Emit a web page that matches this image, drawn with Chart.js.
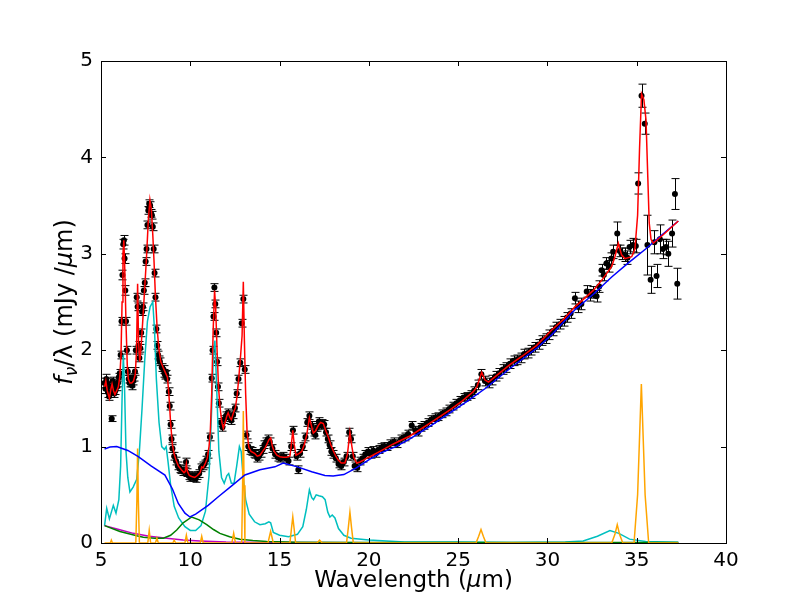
<!DOCTYPE html>
<html>
<head>
<meta charset="utf-8">
<script src="https://cdn.jsdelivr.net/npm/chart.js@4.4.1/dist/chart.umd.min.js"></script>
<style>
  html, body { margin: 0; padding: 0; background: #fff; }
  #wrap { width: 806px; height: 604px; }
</style>
</head>
<body>
<div id="wrap"><canvas id="specChart" width="806" height="604"></canvas></div>
<script>
// observed spectrum (wavelength in micron, f_nu/lambda, 1-sigma error)
const dataWave = [
  5.20,5.25,5.30,5.35,5.40,5.45,5.50,5.55,5.60,5.65,5.70,5.75,5.80,5.85,5.90,5.95,
  6.00,6.05,6.10,6.15,6.20,6.25,6.28,6.32,6.36,6.40,6.45,6.50,6.55,6.60,6.65,6.70,
  6.75,6.80,6.85,6.90,6.95,7.00,7.05,7.10,7.15,7.20,7.25,7.30,7.35,7.40,7.45,7.50,
  7.55,7.60,7.65,7.70,7.75,7.80,7.85,7.90,7.95,8.00,8.05,8.10,8.15,8.20,8.25,8.30,
  8.40,8.50,8.55,8.60,8.65,8.70,8.80,8.85,8.90,8.95,9.00,9.10,9.20,9.30,9.40,9.50,
  9.60,9.70,9.76,9.82,9.90,10.00,10.10,10.20,10.30,10.40,10.50,10.60,10.70,10.80,10.90,11.00,
  11.10,11.20,11.25,11.30,11.35,11.40,11.45,11.50,11.55,11.60,11.70,11.80,11.90,12.00,12.10,12.20,
  12.30,12.40,12.50,12.60,12.70,12.80,12.88,12.97,13.05,13.15,13.25,13.35,13.45,13.55,13.65,13.75,
  13.85,13.95,14.05,14.15,14.25,14.35,
  14.45,14.60,14.75,14.90,15.05,15.20,15.35,15.50,15.65,15.75,15.95,16.05,16.15,16.30,16.45,16.55,
  16.67,16.80,16.90,17.00,17.10,17.20,17.30,17.40,17.50,17.60,17.70,17.80,17.90,18.00,18.15,18.30,
  18.45,18.60,18.75,18.90,19.00,19.10,19.20,19.35,19.50,19.65,19.80,19.95,20.10,20.25,20.40,20.55,
  20.70,20.85,21.00,21.20,21.40,21.60,21.80,22.00,22.20,22.40,22.60,22.75,22.90,23.10,23.30,23.50,
  23.70,23.90,24.10,24.30,24.50,24.70,24.90,25.10,25.30,25.50,25.70,25.90,26.10,26.30,26.50,26.70,
  26.90,27.10,27.30,27.50,27.70,27.90,28.10,28.30,28.50,28.70,28.90,29.10,29.30,29.50,29.70,29.90,
  30.10,30.30,30.50,30.70,30.90,31.10,31.30,31.54,31.70,31.90,32.20,32.40,32.55,32.75,32.90,33.03,
  33.15,33.30,33.46,33.58,33.68,33.91,34.05,34.15,34.34,34.48,34.60,34.78,34.95,35.08,35.27,35.45,
  35.60,35.78,35.99,36.11,36.30,36.47,36.64,36.77,36.98,37.14,37.27
];
const dataFlux = [
  1.66,1.60,1.70,1.66,1.56,1.52,1.55,1.62,1.29,1.68,1.62,1.55,1.58,1.65,1.62,1.66,
  1.72,1.76,1.95,2.30,2.78,3.10,3.14,2.95,2.62,2.30,2.00,1.78,1.70,1.66,1.70,1.66,
  1.63,1.68,1.72,1.78,2.00,2.55,2.45,2.05,1.92,2.02,2.18,2.40,2.45,2.62,2.70,2.92,
  3.05,3.30,3.45,3.52,3.50,3.42,3.40,3.28,3.05,2.80,2.55,2.22,2.05,1.95,1.90,1.88,
  1.82,1.80,1.76,1.74,1.75,1.70,1.57,1.42,1.23,1.08,0.98,0.90,0.85,0.80,0.77,0.76,
  0.74,0.74,0.84,0.73,0.70,0.68,0.69,0.68,0.67,0.70,0.72,0.78,0.80,0.82,0.86,0.92,
  1.10,1.71,2.00,2.35,2.65,2.48,2.18,1.88,1.62,1.45,1.25,1.20,1.28,1.32,1.35,1.30,
  1.27,1.33,1.40,1.55,1.70,1.87,2.28,2.53,1.80,1.12,1.00,0.96,0.95,0.93,0.92,0.88,
  0.90,0.93,0.97,1.02,1.05,1.08,
  1.05,0.98,0.92,0.89,0.88,0.90,0.88,0.85,1.00,1.17,0.90,0.76,0.93,1.00,1.10,1.25,
  1.32,1.22,1.15,1.12,1.20,1.26,1.22,1.24,1.23,1.15,1.08,1.02,0.95,0.92,0.88,0.82,
  0.80,0.84,0.90,1.15,1.08,0.90,0.80,0.78,0.85,0.88,0.92,0.95,0.92,0.96,0.93,0.97,
  0.99,1.00,1.00,1.03,1.05,1.03,1.08,1.10,1.13,1.22,1.17,1.15,1.20,1.22,1.25,1.28,
  1.30,1.31,1.34,1.36,1.39,1.42,1.45,1.48,1.51,1.52,1.54,1.58,1.64,1.75,1.68,1.66,
  1.69,1.73,1.76,1.80,1.82,1.86,1.89,1.90,1.92,1.96,1.97,2.00,2.03,2.06,2.10,2.12,
  2.16,2.20,2.24,2.27,2.30,2.34,2.38,2.54,2.45,2.48,2.61,2.57,2.60,2.56,2.66,2.83,
  2.78,2.90,2.87,2.95,3.02,3.21,3.03,3.00,2.99,2.96,3.07,3.09,3.08,3.73,4.64,4.35,
  3.09,2.73,3.12,2.77,3.15,3.05,3.07,3.00,3.21,3.62,2.69
];
const dataErr = [
  0.05,0.05,0.05,0.05,0.05,0.04,0.04,0.04,0.03,0.04,0.04,0.04,0.04,0.04,0.04,0.04,
  0.04,0.04,0.04,0.04,0.05,0.05,0.05,0.05,0.05,0.04,0.04,0.04,0.04,0.04,0.04,0.04,
  0.04,0.04,0.04,0.04,0.04,0.04,0.04,0.04,0.04,0.04,0.04,0.04,0.04,0.04,0.04,0.04,
  0.04,0.04,0.04,0.04,0.04,0.04,0.04,0.04,0.04,0.04,0.04,0.04,0.04,0.04,0.04,0.04,
  0.04,0.04,0.04,0.04,0.04,0.04,0.04,0.04,0.04,0.04,0.04,0.04,0.04,0.04,0.04,0.04,
  0.04,0.04,0.04,0.04,0.04,0.04,0.04,0.04,0.04,0.04,0.04,0.04,0.04,0.04,0.04,0.04,
  0.04,0.04,0.04,0.04,0.04,0.04,0.04,0.04,0.04,0.04,0.04,0.04,0.04,0.04,0.04,0.04,
  0.04,0.04,0.04,0.04,0.04,0.04,0.04,0.04,0.04,0.04,0.04,0.04,0.04,0.04,0.04,0.04,
  0.04,0.04,0.04,0.04,0.04,0.04,
  0.04,0.04,0.04,0.04,0.04,0.04,0.04,0.04,0.04,0.04,0.04,0.04,0.04,0.04,0.04,0.04,
  0.04,0.04,0.04,0.04,0.04,0.04,0.04,0.04,0.04,0.04,0.04,0.04,0.04,0.04,0.04,0.04,
  0.04,0.04,0.04,0.04,0.04,0.04,0.04,0.04,0.04,0.04,0.04,0.04,0.04,0.04,0.04,0.04,
  0.04,0.04,0.04,0.04,0.04,0.04,0.04,0.04,0.04,0.04,0.04,0.04,0.04,0.04,0.04,0.04,
  0.04,0.04,0.04,0.04,0.04,0.04,0.04,0.04,0.04,0.04,0.04,0.04,0.05,0.05,0.05,0.05,
  0.05,0.05,0.05,0.05,0.05,0.05,0.05,0.05,0.05,0.05,0.05,0.05,0.05,0.05,0.05,0.05,
  0.05,0.05,0.05,0.05,0.05,0.05,0.05,0.06,0.06,0.06,0.06,0.06,0.06,0.06,0.06,0.06,
  0.06,0.06,0.06,0.06,0.07,0.12,0.06,0.06,0.07,0.07,0.07,0.07,0.07,0.11,0.12,0.11,
  0.31,0.14,0.12,0.12,0.15,0.10,0.08,0.13,0.14,0.16,0.16
];

// total model (red)
const fitWave = [
  5.20,5.27,5.35,5.47,5.56,5.62,5.70,5.78,5.88,5.97,6.05,6.12,6.18,6.23,6.28,6.33,
  6.40,6.47,6.53,6.62,6.72,6.82,6.92,6.99,7.05,7.10,7.17,7.25,7.33,7.45,7.55,7.65,
  7.74,7.82,7.90,7.97,8.05,8.15,8.25,8.35,8.48,8.60,8.72,8.80,8.90,9.00,9.10,9.20,
  9.33,9.50,9.65,9.72,9.78,9.84,9.95,10.08,10.25,10.40,10.55,10.64,10.72,10.85,10.95,11.05,
  11.12,11.20,11.28,11.36,11.42,11.50,11.58,11.66,11.76,11.85,11.95,12.05,12.12,12.22,12.30,12.43,
  12.52,12.62,12.72,12.82,12.90,12.97,13.03,13.10,13.18,13.28,13.40,13.60,13.75,13.90,14.05,14.20,
  14.30,14.40,14.50,14.60,14.70,14.85,15.02,15.20,15.40,15.58,15.66,15.74,15.82,15.92,16.10,16.24,
  16.38,16.52,16.67,16.78,16.89,17.00,17.17,17.30,17.45,17.60,17.73,17.87,18.00,18.15,18.29,18.45,
  18.66,18.80,18.94,19.05,19.15,19.32,19.50,19.70,19.88,20.06,20.62,21.40,22.30,23.40,24.54,25.20,
  25.85,26.05,26.32,26.50,26.70,27.30,27.90,28.60,29.40,30.24,30.90,31.54,32.57,33.10,33.60,33.78,
  33.97,34.15,34.34,34.72,34.90,35.05,35.16,35.27,35.40,35.52,35.62,35.70,35.80,35.93,36.50,37.33
];
const fitFlux = [
  1.62,1.68,1.58,1.50,1.60,1.65,1.58,1.54,1.58,1.62,1.72,1.95,2.50,3.00,3.14,2.85,
  2.28,1.85,1.70,1.66,1.66,1.68,1.75,2.00,2.69,2.10,1.88,2.05,2.28,2.65,2.97,3.35,
  3.56,3.46,3.20,2.92,2.55,2.21,2.00,1.88,1.82,1.77,1.72,1.55,1.24,1.02,0.92,0.86,
  0.80,0.76,0.73,0.74,0.82,0.74,0.70,0.69,0.68,0.70,0.73,0.79,0.78,0.83,0.88,1.00,
  1.15,1.55,2.20,2.62,2.45,2.00,1.62,1.42,1.26,1.19,1.25,1.32,1.35,1.30,1.28,1.36,
  1.40,1.52,1.72,1.95,2.15,2.71,2.10,1.55,1.15,0.99,0.95,0.93,0.90,0.91,0.95,0.99,
  1.03,1.07,1.09,1.00,0.95,0.91,0.895,0.89,0.89,0.90,1.02,1.17,1.02,0.91,0.93,0.95,
  1.02,1.12,1.30,1.22,1.14,1.16,1.22,1.25,1.24,1.16,1.10,1.02,0.96,0.90,0.86,0.83,
  0.83,0.92,1.15,1.00,0.89,0.83,0.84,0.86,0.88,0.895,0.95,1.03,1.11,1.24,1.38,1.47,
  1.57,1.62,1.77,1.69,1.67,1.76,1.85,1.94,2.05,2.21,2.32,2.45,2.62,2.74,2.87,2.97,
  3.11,2.99,2.95,2.97,3.05,3.40,4.10,4.66,4.60,4.39,3.80,3.32,3.15,3.11,3.20,3.34
];

// dust continuum (blue)
const contWave = [5.20,5.50,5.88,6.50,7.09,7.80,8.58,9.00,9.33,9.70,9.98,10.30,11.00,11.57,12.30,13.06,
  13.90,14.74,15.20,16.00,16.80,17.54,18.00,18.60,19.30,20.06,20.62,21.50,22.30,23.50,24.54,25.50,
  26.50,27.90,29.40,30.24,31.54,32.57,33.60,34.50,35.50,36.50,37.33];
const contFlux = [0.975,0.995,1.00,0.96,0.895,0.80,0.705,0.56,0.41,0.31,0.27,0.30,0.39,0.48,0.59,0.705,
  0.76,0.79,0.83,0.79,0.74,0.70,0.695,0.71,0.78,0.87,0.93,1.00,1.08,1.22,1.35,1.47,
  1.60,1.81,2.02,2.16,2.42,2.58,2.76,2.90,3.05,3.21,3.34];

// PAH features (cyan)
const pahWave = [5.20,5.32,5.47,5.69,5.84,6.00,6.10,6.18,6.25,6.32,6.40,6.50,6.62,6.80,7.00,7.15,
  7.30,7.45,7.60,7.75,7.90,8.00,8.10,8.25,8.40,8.55,8.65,8.75,8.90,9.10,9.35,9.70,
  10.00,10.30,10.60,10.85,11.05,11.20,11.30,11.38,11.48,11.60,11.75,11.90,12.05,12.15,12.30,12.45,
  12.60,12.75,12.85,12.95,13.10,13.30,13.60,13.90,14.20,14.40,14.50,14.65,15.00,15.50,16.00,16.30,
  16.50,16.67,16.80,16.90,17.05,17.20,17.40,17.55,17.70,17.82,17.95,18.10,18.30,18.60,19.00,20.00,
  22.00,25.00,28.00,31.00,32.00,32.80,33.50,34.00,34.60,35.50,37.33];
const pahFlux = [0.18,0.36,0.25,0.39,0.31,0.45,0.80,1.50,1.95,1.60,0.95,0.68,0.53,0.58,0.66,0.95,
  1.40,1.90,2.30,2.45,2.50,2.20,1.70,1.25,1.00,0.97,1.00,0.85,0.60,0.38,0.26,0.17,
  0.13,0.13,0.18,0.33,0.70,1.40,2.00,2.10,1.60,0.95,0.68,0.62,0.70,0.72,0.62,0.62,
  0.80,1.00,0.95,0.70,0.45,0.30,0.22,0.19,0.20,0.22,0.21,0.11,0.08,0.065,0.09,0.17,
  0.35,0.55,0.47,0.45,0.50,0.49,0.48,0.45,0.32,0.27,0.29,0.26,0.15,0.08,0.05,0.03,
  0.01,0.01,0.005,0.01,0.02,0.07,0.13,0.10,0.04,0.015,0.007];

// atomic and H2 lines (orange)
const lineWave = [5.20,5.52,5.58,5.64,6.95,7.01,7.05,7.09,7.15,7.62,7.70,7.78,8.05,8.13,8.21,9.02,
  9.10,9.18,9.70,9.78,9.86,10.56,10.64,10.72,12.33,12.43,12.53,12.88,12.93,12.97,13.01,13.06,
  14.35,14.50,14.65,15.58,15.66,15.74,15.82,15.90,17.10,17.24,17.38,18.75,18.85,18.94,19.03,19.13,
  26.00,26.15,26.28,26.41,26.56,33.60,33.78,33.91,34.04,34.22,34.85,35.05,35.26,35.47,35.67,37.33];
const lineFlux = [0,0,0.03,0,0,0.45,0.98,0.45,0,0,0.13,0,0,0.05,0,0,
  0.03,0,0,0.08,0,0,0.07,0,0,0.10,0,0,0.60,1.37,0.60,0,
  0,0.12,0,0,0.14,0.27,0.14,0,0,0.03,0,0,0.16,0.32,0.16,0,
  0,0.07,0.14,0.07,0,0,0.09,0.19,0.09,0,0,0.50,1.65,0.50,0,0];

// silicate emission (green)
const silWave = [5.20,6.06,7.00,7.37,8.00,8.49,8.90,9.24,9.60,10.08,10.50,10.92,11.30,11.66,12.20,12.78,
  13.50,14.28,16.00,20.00,25.00,30.00,37.33];
const silFlux = [0.18,0.12,0.075,0.06,0.05,0.05,0.08,0.135,0.21,0.27,0.24,0.19,0.14,0.10,0.065,0.04,
  0.025,0.015,0.008,0.005,0.004,0.004,0.004];

// stellar continuum (magenta)
const starWave = [5.20,6.00,6.81,7.70,8.68,9.60,10.54,12.00,14.00,20.00,30.00,37.33];
const starFlux = [0.18,0.14,0.10,0.07,0.05,0.03,0.02,0.01,0.005,0.002,0.001,0.001];

const pts = (xs, ys) => xs.map((x, i) => ({ x: x, y: ys[i] }));

function lineSet(label, xs, ys, color, order) {
  return {
    type: 'line',
    label: label,
    data: pts(xs, ys),
    borderColor: color,
    borderWidth: 1.5,
    pointRadius: 0,
    tension: 0,
    fill: false,
    order: order
  };
}

const FONT = 'DejaVu Sans';

// error bars drawn just before the data markers
const errorBars = {
  id: 'errorBars',
  beforeDatasetDraw(chart, args) {
    if (args.index !== 0) return;
    const ctx = chart.ctx;
    const xs = chart.scales.x, ys = chart.scales.y;
    ctx.save();
    ctx.strokeStyle = '#000';
    ctx.lineWidth = 1;
    dataWave.forEach((w, i) => {
      const px = Math.round(xs.getPixelForValue(w)) + 0.5;
      const top = ys.getPixelForValue(dataFlux[i] + dataErr[i]);
      const bot = ys.getPixelForValue(dataFlux[i] - dataErr[i]);
      ctx.beginPath();
      ctx.moveTo(px, top); ctx.lineTo(px, bot);
      ctx.moveTo(px - 4, top); ctx.lineTo(px + 4, top);
      ctx.moveTo(px - 4, bot); ctx.lineTo(px + 4, bot);
      ctx.stroke();
    });
    ctx.restore();
  }
};

// matplotlib style frame: box, inward ticks on all sides, axis titles
const frame = {
  id: 'frame',
  afterDraw(chart) {
    const ctx = chart.ctx;
    const a = chart.chartArea;
    const xs = chart.scales.x, ys = chart.scales.y;
    ctx.save();
    ctx.strokeStyle = '#000';
    ctx.lineWidth = 1;
    ctx.strokeRect(Math.round(a.left) + 0.5, Math.round(a.top) + 0.5,
                   Math.round(a.right - a.left), Math.round(a.bottom - a.top));
    ctx.beginPath();
    xs.ticks.forEach(t => {
      const p = Math.round(xs.getPixelForValue(t.value)) + 0.5;
      ctx.moveTo(p, a.bottom); ctx.lineTo(p, a.bottom - 5);
      ctx.moveTo(p, a.top); ctx.lineTo(p, a.top + 5);
    });
    ys.ticks.forEach(t => {
      const p = Math.round(ys.getPixelForValue(t.value)) + 0.5;
      ctx.moveTo(a.left, p); ctx.lineTo(a.left + 5, p);
      ctx.moveTo(a.right, p); ctx.lineTo(a.right - 5, p);
    });
    ctx.stroke();

    // x title
    ctx.fillStyle = '#000';
    ctx.textBaseline = 'alphabetic';
    const xParts = [
      ['Wavelength (', '23px ' + FONT, 0],
      ['\u03bc', 'italic 23px ' + FONT, 0],
      ['m)', '23px ' + FONT, 0]
    ];
    drawParts(ctx, xParts, (a.left + a.right) / 2, 587, 0);

    // y title
    const yParts = [
      ['f', 'italic 24px ' + FONT, 0],
      ['\u03bd', 'italic 17px ' + FONT, 5],
      ['/\u03bb', '24px ' + FONT, 0],
      [' (mJy /', '24px ' + FONT, 0],
      ['\u03bc', 'italic 24px ' + FONT, 0],
      ['m)', '24px ' + FONT, 0]
    ];
    drawParts(ctx, yParts, 72, (a.top + a.bottom) / 2, -Math.PI / 2);
    ctx.restore();
  }
};

function drawParts(ctx, parts, cx, cy, rot) {
  let total = 0;
  parts.forEach(p => { ctx.font = p[1]; total += ctx.measureText(p[0]).width; });
  ctx.save();
  ctx.translate(cx, cy);
  ctx.rotate(rot);
  let x = -total / 2;
  ctx.textAlign = 'left';
  parts.forEach(p => {
    ctx.font = p[1];
    ctx.fillText(p[0], x, p[2]);
    x += ctx.measureText(p[0]).width;
  });
  ctx.restore();
}

const ctx = document.getElementById('specChart').getContext('2d');
const specChart = new Chart(ctx, {
  type: 'scatter',
  data: {
    datasets: [
      {
        label: 'data',
        data: pts(dataWave, dataFlux),
        backgroundColor: '#000',
        borderColor: '#000',
        pointRadius: 3,
        pointBorderWidth: 0,
        order: 6
      },
      lineSet('PAH', pahWave, pahFlux, '#00bfbf', 5),
      lineSet('stars', starWave, starFlux, '#bf00bf', 4),
      lineSet('silicate', silWave, silFlux, '#008000', 3),
      lineSet('lines', lineWave, lineFlux, '#ffa500', 2),
      lineSet('continuum', contWave, contFlux, '#0000ff', 1),
      lineSet('model', fitWave, fitFlux, '#ff0000', 0)
    ]
  },
  options: {
    responsive: false,
    animation: false,
    devicePixelRatio: 1,
    layout: { padding: { left: 0, right: 80, top: 61, bottom: 0 } },
    plugins: {
      legend: { display: false },
      tooltip: { enabled: false }
    },
    scales: {
      x: {
        type: 'linear',
        min: 5, max: 40,
        afterFit: s => { s.height = 61; },
        grid: { display: false, drawTicks: false },
        border: { display: false },
        ticks: { stepSize: 5, padding: 6, color: '#000', font: { family: FONT, size: 20 } }
      },
      y: {
        type: 'linear',
        min: 0, max: 5,
        afterFit: s => { s.width = 101; },
        grid: { display: false, drawTicks: false },
        border: { display: false },
        ticks: { stepSize: 1, padding: 8, color: '#000', font: { family: FONT, size: 20 } }
      }
    }
  },
  plugins: [errorBars, frame]
});
</script>
</body>
</html>
